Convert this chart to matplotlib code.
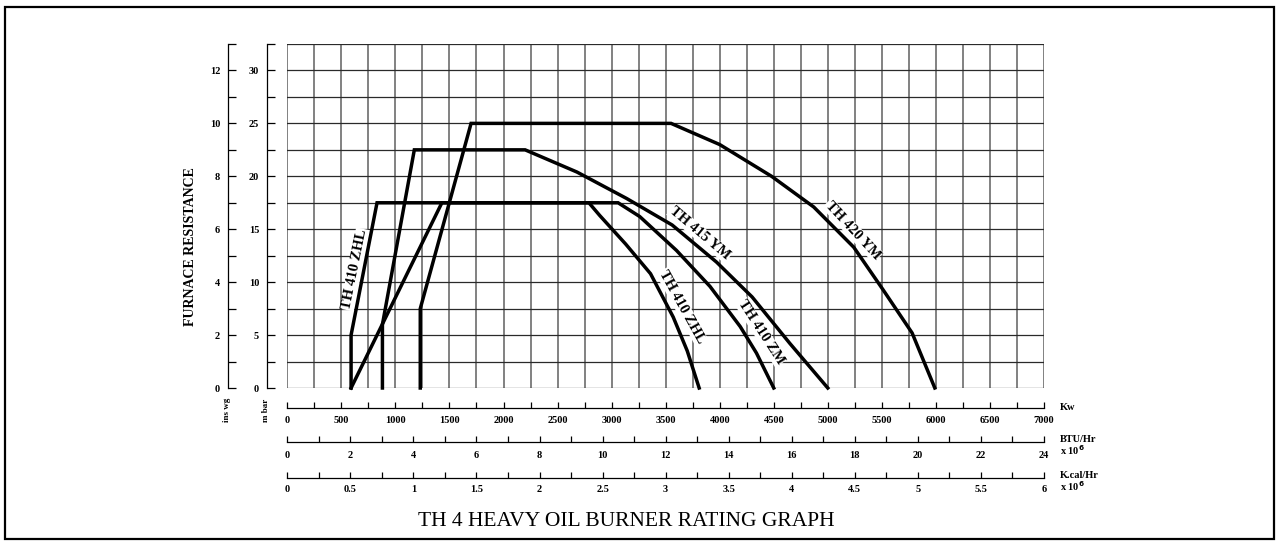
import matplotlib
matplotlib.use("Agg")
import matplotlib.pyplot as plt
from matplotlib.patches import Rectangle
import numpy as np

plt.rcParams['font.family'] = ['Liberation Serif', 'DejaVu Serif']

# curves, kW against furnace resistance in mbar
kw_410zhl = [590, 590, 830, 2790, 2890, 3130, 3360, 3570, 3700, 3810]
mbar_410zhl = [0, 5, 17.5, 17.5, 16.3, 13.6, 10.8, 6.7, 3.5, 0]

kw_410zm = [590, 1430, 3060, 3260, 3600, 3910, 4190, 4340, 4500]
mbar_410zm = [0, 17.5, 17.5, 16.2, 13.0, 9.6, 5.8, 3.3, 0]

kw_415ym = [880, 880, 1175, 2200, 2680, 3140, 3560, 3970, 4300, 4650, 5000]
mbar_415ym = [0, 6, 22.5, 22.5, 20.4, 17.9, 15.4, 11.9, 8.6, 4.2, 0]

kw_420ym = [1230, 1230, 1700, 3550, 4000, 4480, 4870, 5240, 5510, 5780, 5990]
mbar_420ym = [0, 7.5, 25, 25, 23.0, 20.0, 17.1, 13.3, 9.3, 5.2, 0]

# curve labels: text, kW, mbar, angle
curve_labels = [
    ("TH 410 ZHL", 626, 11.2, 78.5),
    ("TH 415 YM", 3816, 14.6, -40),
    ("TH 420 YM", 5230, 14.9, -47),
    ("TH 410 ZHL", 3650, 7.7, -61),
    ("TH 410 ZM", 4380, 5.3, -57),
]

kw_ticks = list(range(0, 7001, 500))
btu_ticks = list(range(0, 25, 2))
kcal_ticks = [0, 0.5, 1, 1.5, 2, 2.5, 3, 3.5, 4, 4.5, 5, 5.5, 6]
kcal_labels = ["0", "0.5", "1", "1.5", "2", "2.5", "3", "3.5", "4", "4.5", "5", "5.5", "6"]
inwg_ticks = list(range(0, 13, 2))
mbar_ticks = list(range(0, 31, 5))

W, H = 1281, 543


def fx(px):
    return px / W


def fy(py):
    return 1 - py / H


fig = plt.figure(figsize=(W / 100, H / 100), dpi=100)

# frame around the whole sheet
fig.patches.append(Rectangle((fx(5), fy(539)), fx(1274) - fx(5), fy(7) - fy(539),
                             transform=fig.transFigure, fill=False, lw=1.6, ec='black'))

gl, gr, gt, gb = 287.3, 1044, 44, 388
ax = fig.add_axes([fx(gl), fy(gb), fx(gr) - fx(gl), fy(gt) - fy(gb)])
ax.set_xlim(0, 7000)
ax.set_ylim(0, 32.5)
for s in ax.spines.values():
    s.set_visible(False)
ax.set_xticks([])
ax.set_yticks([])
for x in np.arange(0, 7001, 250):
    ax.axvline(x, color='#777777', lw=1.3, zorder=1)
for y in np.arange(0, 32.6, 2.5):
    ax.axhline(y, color='#2a2a2a', lw=0.9, zorder=1)

for kw, mb in [(kw_410zhl, mbar_410zhl), (kw_410zm, mbar_410zm),
               (kw_415ym, mbar_415ym), (kw_420ym, mbar_420ym)]:
    ax.plot(kw, mb, color='black', lw=2.5, solid_joinstyle='miter', zorder=3, clip_on=False)

# labels sit under the curves so the white box only hides grid lines
for txt, x, y, rot in curve_labels:
    ax.text(x, y, txt, rotation=rot, rotation_mode='anchor', ha='center', va='center',
            fontsize=10.5, fontweight='bold', zorder=2,
            bbox=dict(fc='white', ec='none', pad=0.5))


def vert_scale(px, top, major, minor_step, label):
    a = fig.add_axes([fx(px), fy(gb), 0.0005, fy(gt) - fy(gb)])
    a.set_ylim(0, top)
    a.set_xticks([])
    for k in ['right', 'top', 'bottom']:
        a.spines[k].set_visible(False)
    a.spines['left'].set_linewidth(0.9)
    a.set_yticks(major)
    a.set_yticklabels([str(v) for v in major], fontsize=7.5, fontweight='bold')
    a.set_yticks(np.arange(0, top + 0.01, minor_step), minor=True)
    a.tick_params(axis='y', which='both', direction='in', length=6, width=0.9, pad=5.5)
    fig.text(fx(px - 1), fy(410), label, rotation=90, ha='center', va='center',
             fontsize=6.5, fontweight='bold')
    return a


vert_scale(227.7, 13, inwg_ticks, 1, "ins wg")
vert_scale(266.7, 32.5, mbar_ticks, 2.5, "m bar")


def horiz_scale(py, top, major, labels, minor_step, pad):
    a = fig.add_axes([fx(gl), fy(py), fx(gr) - fx(gl), 0.0005])
    a.set_xlim(0, top)
    a.set_yticks([])
    for k in ['right', 'top', 'left']:
        a.spines[k].set_visible(False)
    a.spines['bottom'].set_linewidth(0.9)
    a.set_xticks(major)
    a.set_xticklabels(labels, fontsize=7.5, fontweight='bold')
    a.set_xticks(np.arange(0, top + 0.001, minor_step), minor=True)
    a.tick_params(axis='x', which='both', direction='in', length=4, width=0.9, pad=pad)
    return a


horiz_scale(407.7, 7000, kw_ticks, [str(v) for v in kw_ticks], 250, 6)
horiz_scale(442.3, 24, btu_ticks, [str(v) for v in btu_ticks], 1, 6)
horiz_scale(478.3, 6, kcal_ticks, kcal_labels, 0.25, 4.5)

unit_kw = dict(fontsize=7.5, fontweight='bold', ha='left', va='center')
fig.text(fx(1060), fy(408), "Kw", **unit_kw)
fig.text(fx(1060), fy(440), "BTU/Hr", **unit_kw)
fig.text(fx(1060), fy(450), r"x 10$^{\mathbf{6}}$", **unit_kw)
fig.text(fx(1060), fy(476), "K.cal/Hr", **unit_kw)
fig.text(fx(1060), fy(486), r"x 10$^{\mathbf{6}}$", **unit_kw)

fig.text(fx(190), fy(247), "FURNACE RESISTANCE", rotation=90, ha='center', va='center',
         fontsize=10, fontweight='bold')

fig.text(fx(626), fy(522), "TH 4 HEAVY OIL BURNER RATING GRAPH", ha='center', va='center',
         fontsize=15.5)

fig.savefig("out.png", dpi=100)
